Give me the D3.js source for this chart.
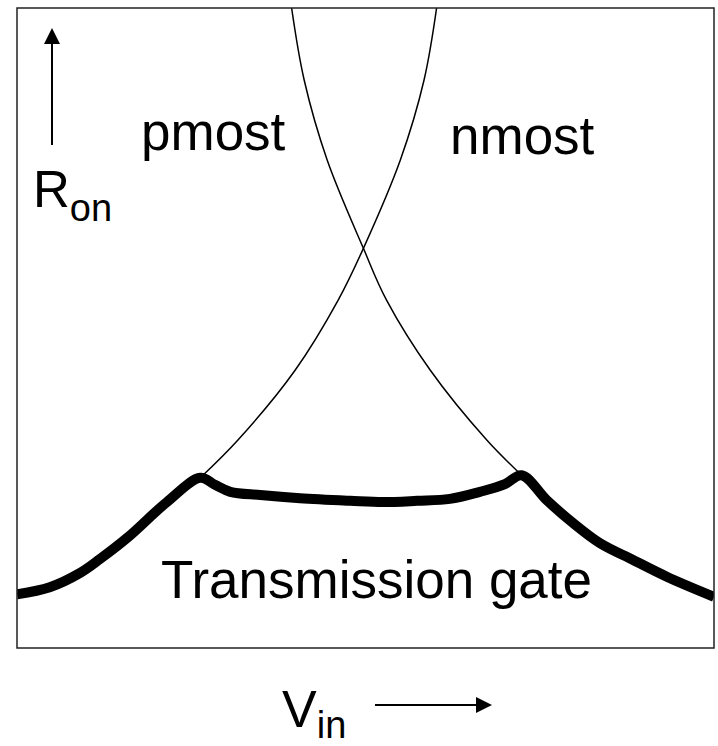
<!DOCTYPE html>
<html>
<head>
<meta charset="utf-8">
<script src="https://cdn.jsdelivr.net/npm/d3@7"></script>
<style>
  body { margin: 0; background: #fff; }
  text { font-family: "Liberation Sans", Arial, sans-serif; fill: #000; }
</style>
</head>
<body>
<div id="chart"></div>
<script>
// Vin and Ron in arbitrary units (0..100)
var pmosVin = [39.4, 41.2, 44.5, 49.7, 53.0, 59.3, 67.4, 72.4];
var pmosRon = [100, 88.75, 76.25, 62.45, 54.4, 43.4, 32.5, 27.0];

var nmosVin = [60.2, 58.4, 55.0, 49.7, 46.1, 39.9, 31.7, 26.3];
var nmosRon = [100, 88.75, 76.25, 62.45, 54.4, 43.4, 32.5, 26.6];

var tgVin = [0, 4.7, 9.0, 11.9, 15.8, 21.5, 26.3, 28.4, 30.6, 34.9, 40.6, 47.8, 52.5,
  57.4, 62.1, 66.4, 70.0, 72.4, 76.0, 79.8, 83.6, 88.4, 93.3, 100];
var tgRon = [8.4, 9.5, 11.7, 13.9, 17.2, 22.8, 26.6, 25.5, 24.4, 23.9, 23.4, 23.0, 22.8,
  23.0, 23.3, 24.4, 25.6, 27.0, 23.1, 19.5, 16.4, 13.75, 11.1, 8.0];

var labels = { p: "pmost", n: "nmost", tg: "Transmission gate", y: "R", ySub: "on", x: "V", xSub: "in" };

!(function () {
  var W = 718, H = 746;
  var box = { left: 17, right: 714, top: 8, bottom: 648 };

  var svg = d3.select("#chart").append("svg")
    .attr("width", W)
    .attr("height", H);

  var x = d3.scaleLinear().domain([0, 100]).range([box.left, box.right]);
  var y = d3.scaleLinear().domain([0, 100]).range([box.bottom, box.top]);

  svg.append("defs").append("clipPath").attr("id", "clip")
    .append("rect")
    .attr("x", box.left).attr("y", box.top)
    .attr("width", box.right - box.left).attr("height", box.bottom - box.top);

  function pts(xs, ys) {
    return xs.map(function (v, i) { return [v, ys[i]]; });
  }

  var line = d3.line()
    .x(function (d) { return x(d[0]); })
    .y(function (d) { return y(d[1]); })
    .curve(d3.curveCatmullRom.alpha(0.5));

  var plot = svg.append("g").attr("clip-path", "url(#clip)");

  [pts(pmosVin, pmosRon), pts(nmosVin, nmosRon)].forEach(function (d) {
    plot.append("path")
      .attr("d", line(d))
      .attr("fill", "none")
      .attr("stroke", "#000")
      .attr("stroke-width", 1.5);
  });

  plot.append("path")
    .attr("d", line(pts(tgVin, tgRon)))
    .attr("fill", "none")
    .attr("stroke", "#000")
    .attr("stroke-width", 10)
    .attr("stroke-linejoin", "round");

  // frame
  svg.append("rect")
    .attr("x", box.left).attr("y", box.top)
    .attr("width", box.right - box.left).attr("height", box.bottom - box.top)
    .attr("fill", "none")
    .attr("stroke", "#222")
    .attr("stroke-width", 1.5);

  svg.append("text").attr("x", 141).attr("y", 150).style("font-size", "53px").text(labels.p);
  svg.append("text").attr("x", 450).attr("y", 154).style("font-size", "53px").text(labels.n);
  svg.append("text").attr("x", 161).attr("y", 598).style("font-size", "53px").text(labels.tg);

  // y label + arrow
  var yl = svg.append("text").attr("x", 33).attr("y", 207).style("font-size", "51px");
  yl.append("tspan").text(labels.y);
  yl.append("tspan").attr("dy", 14).style("font-size", "38px").text(labels.ySub);

  svg.append("line")
    .attr("x1", 52).attr("x2", 52).attr("y1", 145).attr("y2", 40)
    .attr("stroke", "#000").attr("stroke-width", 2);
  svg.append("path")
    .attr("d", "M52,28 L44,44 L60,44 Z")
    .attr("fill", "#000");

  // x label + arrow
  var xl = svg.append("text").attr("x", 282).attr("y", 727).style("font-size", "52px");
  xl.append("tspan").text(labels.x);
  xl.append("tspan").attr("dy", 11).style("font-size", "38px").text(labels.xSub);

  svg.append("line")
    .attr("x1", 375).attr("x2", 480).attr("y1", 705).attr("y2", 705)
    .attr("stroke", "#000").attr("stroke-width", 2);
  svg.append("path")
    .attr("d", "M492,705 L476,697 L476,713 Z")
    .attr("fill", "#000");
})();
</script>
</body>
</html>
